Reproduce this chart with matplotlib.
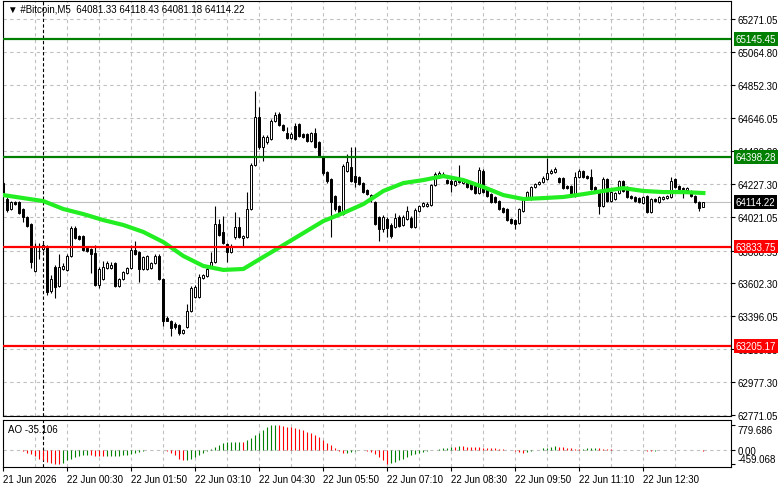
import numpy as np
import matplotlib
matplotlib.use('Agg')
import matplotlib.pyplot as plt

plt.rcParams['font.family'] = ['Liberation Sans', 'DejaVu Sans']

# M5 candles, 21 Jun 23:10 .. 22 Jun 13:45
opens = [64235, 64134, 64071, 64115, 64115, 64071, 64020, 63976, 63679, 63806,
         63818, 63837, 63553, 63704, 63584, 63692, 63686, 63774, 63951, 63900,
         63900, 63824, 63818, 63793, 63591, 63629, 63698, 63698, 63730, 63584,
         63629, 63667, 63698, 63812, 63799, 63692, 63692, 63698, 63730, 63774,
         63629, 63382, 63363, 63344, 63338, 63287, 63325, 63426, 63515, 63515,
         63635, 63648, 63711, 63736, 63976, 63926, 63850, 63799, 63894, 63957,
         63888, 63894, 64071, 64349, 64652, 64463, 64494, 64513, 64627, 64671,
         64602, 64551, 64519, 64595, 64608, 64545, 64545, 64501, 64551, 64494,
         64399, 64305, 64260, 64153, 64090, 64039, 64311, 64336, 64279, 64273,
         64235, 64191, 64134, 64115, 64020, 63945, 64008, 63970, 63957, 64020,
         63970, 64008, 64014, 63957, 64058, 64090, 64090, 64096, 64222, 64279,
         64279, 64254, 64248, 64222, 64260, 64235, 64241, 64235, 64216, 64172,
         64311, 64197, 64165, 64147, 64121, 64077, 64071, 64008, 64001, 63983,
         64058, 64134, 64134, 64210, 64229, 64241, 64260, 64298, 64305, 64267,
         64267, 64216, 64216, 64153, 64273, 64311, 64279, 64273, 64210, 64178,
         64090, 64260, 64121, 64134, 64172, 64248, 64210, 64153, 64147, 64140,
         64109, 64153, 64052, 64134, 64115, 64134, 64140, 64147, 64260, 64216,
         64203, 64191, 64185, 64153, 64115, 64081.33]
highs = [64247, 64147, 64121, 64121, 64121, 64077, 64027, 63983, 63856, 63856,
         63856, 63843, 63654, 63717, 63787, 63730, 63787, 63964, 63964, 63907,
         63907, 63831, 63824, 63843, 63704, 63742, 63742, 63736, 63736, 63635,
         63679, 63704, 63843, 63869, 63806, 63774, 63780, 63736, 63787, 63787,
         63635, 63395, 63369, 63357, 63344, 63313, 63470, 63584, 63591, 63660,
         63660, 63704, 63799, 64090, 64008, 64027, 63856, 63850, 64052, 64020,
         63907, 64179, 64362, 64817, 64716, 64538, 64538, 64640, 64684, 64684,
         64608, 64589, 64557, 64614, 64614, 64551, 64551, 64557, 64583, 64501,
         64406, 64311, 64267, 64159, 64096, 64356, 64419, 64463, 64463, 64279,
         64241, 64197, 64165, 64121, 64027, 64033, 64020, 63983, 64046, 64033,
         64033, 64090, 64027, 64077, 64096, 64115, 64115, 64229, 64305, 64311,
         64305, 64260, 64273, 64260, 64349, 64260, 64248, 64241, 64222, 64336,
         64324, 64203, 64172, 64153, 64128, 64083, 64077, 64014, 64008, 64077,
         64147, 64185, 64216, 64235, 64248, 64279, 64393, 64324, 64336, 64273,
         64273, 64222, 64222, 64305, 64324, 64317, 64286, 64324, 64216, 64185,
         64273, 64267, 64185, 64178, 64254, 64254, 64216, 64159, 64153, 64147,
         64153, 64159, 64140, 64140, 64153, 64153, 64159, 64273, 64267, 64222,
         64210, 64210, 64191, 64159, 64121, 64118.43]
lows = [64153, 64052, 64065, 64096, 64039, 63989, 63957, 63698, 63673, 63755,
        63806, 63527, 63540, 63508, 63578, 63686, 63679, 63768, 63881, 63875,
        63806, 63799, 63667, 63584, 63572, 63622, 63692, 63692, 63578, 63578,
        63622, 63660, 63692, 63780, 63610, 63686, 63686, 63692, 63723, 63622,
        63331, 63376, 63268, 63313, 63275, 63281, 63319, 63420, 63508, 63508,
        63629, 63641, 63704, 63730, 63900, 63850, 63736, 63793, 63881, 63888,
        63837, 63888, 64065, 64343, 64450, 64374, 64482, 64507, 64621, 64595,
        64564, 64513, 64513, 64507, 64526, 64519, 64494, 64494, 64456, 64399,
        64286, 64235, 63894, 64058, 64046, 64033, 64305, 64241, 64210, 64222,
        64172, 64159, 64115, 63970, 63869, 63926, 63894, 63888, 63951, 63957,
        63964, 64001, 63951, 63951, 64052, 64083, 64083, 64090, 64216, 64273,
        64273, 64229, 64178, 64216, 64235, 64229, 64203, 64191, 64165, 64165,
        64172, 64147, 64109, 64109, 64065, 64046, 63995, 63976, 63945, 63976,
        64052, 64128, 64128, 64203, 64222, 64235, 64254, 64292, 64298, 64235,
        64197, 64197, 64147, 64147, 64267, 64267, 64260, 64191, 64172, 64039,
        64083, 64115, 64115, 64128, 64165, 64178, 64140, 64134, 64115, 64109,
        64102, 64046, 64046, 64115, 64109, 64128, 64134, 64140, 64203, 64191,
        64140, 64185, 64147, 64109, 64058, 64081.18]
closes = [64165, 64065, 64115, 64102, 64046, 64020, 63964, 63736, 63831, 63803,
          63843, 63546, 63629, 63578, 63704, 63711, 63774, 63951, 63888, 63881,
          63812, 63806, 63787, 63591, 63692, 63704, 63730, 63717, 63584, 63629,
          63673, 63698, 63812, 63787, 63692, 63768, 63774, 63730, 63774, 63629,
          63363, 63363, 63319, 63325, 63287, 63306, 63426, 63572, 63578, 63641,
          63654, 63692, 63736, 63976, 63907, 63856, 63799, 63837, 63957, 63894,
          63900, 64071, 64349, 64652, 64463, 64526, 64526, 64627, 64665, 64602,
          64570, 64519, 64545, 64513, 64532, 64526, 64501, 64551, 64463, 64406,
          64299, 64248, 64115, 64071, 64052, 64343, 64368, 64248, 64241, 64229,
          64178, 64165, 64159, 63976, 63945, 64020, 63951, 63900, 64014, 63964,
          64020, 64058, 63957, 64065, 64090, 64109, 64102, 64222, 64292, 64298,
          64292, 64235, 64229, 64248, 64241, 64248, 64210, 64197, 64172, 64317,
          64178, 64153, 64115, 64115, 64071, 64052, 64001, 63983, 63976, 64071,
          64140, 64178, 64210, 64229, 64241, 64267, 64298, 64311, 64324, 64241,
          64203, 64203, 64153, 64273, 64311, 64273, 64267, 64197, 64178, 64090,
          64260, 64121, 64178, 64172, 64248, 64185, 64147, 64140, 64121, 64115,
          64147, 64052, 64134, 64121, 64147, 64147, 64153, 64248, 64210, 64197,
          64197, 64203, 64153, 64115, 64077, 64114.22]

# moving average, read every 5th bar
ma_bars = list(range(0, 176, 5))
ma_vals = [64159, 64140, 64121, 64071, 64039, 64001, 63970, 63926, 63862, 63774,
           63711, 63686, 63692, 63768, 63843, 63919, 63995, 64046, 64102, 64185,
           64235, 64254, 64279, 64254, 64210, 64159, 64134, 64140, 64147, 64165,
           64185, 64203, 64185, 64178, 64178, 64172]

ao_vals = [-5, -10, -15, -20, -30, -55, -100, -150, -215, -290,
           -340, -395, -430, -448, -452, -420, -345, -290, -235, -190,
           -170, -160, -170, -190, -215, -218, -210, -205, -200, -190,
           -180, -160, -140, -105, -85, -55, -30, -20, -15, -10,
           -20, -60, -105, -180, -290, -340, -320, -290, -235, -180,
           -105, -45, 10, 85, 140, 215, 235, 238, 245, 255,
           235, 300, 375, 450, 535, 620, 700, 770, 779.686, 770,
           750, 730, 710, 670, 650, 620, 565, 510, 460, 385,
           300, 215, 130, 40, -45, -105, -100, -75, -45, -20,
           -25, -40, -85, -150, -235, -340, -459.068, -440, -395, -345,
           -290, -235, -180, -130, -105, -75, -55, -20, 0, 15,
           40, 55, 85, 80, 120, 105, 95, 85, 80, 75,
           65, 55, 45, 35, 22, 5, -5, -20, -50, -75,
           -95, -75, -45, -20, 0, 40, 65, 95, 105, 95,
           85, 65, 45, 25, 20, 30, 42, 50, 60, 45,
           25, 10, 5, -5, -8, -10, -6, -4, -2, -8,
           -20, -35, -45, -40, -30, -20, -12, -5, -8, -6,
           -3, -8, -12, -15, -20, -35.106]

price_ticks = [65271.05, 65064.80, 64852.30, 64646.05, 64439.80, 64227.30, 64021.05,
               63808.55, 63602.30, 63396.05, 63183.55, 62977.30, 62771.05]
green_levels = [65145.45, 64398.28]
red_levels = [63833.75, 63205.17]
last_price = 64114.22

time_labels = ['21 Jun 2026', '22 Jun 00:30', '22 Jun 01:50', '22 Jun 03:10', '22 Jun 04:30',
               '22 Jun 05:50', '22 Jun 07:10', '22 Jun 08:30', '22 Jun 09:50', '22 Jun 11:10',
               '22 Jun 12:30']
label_bars = list(range(0, 176, 16))
day_sep_bar = 10  # 22 Jun 00:00

W, H = 781, 489


def rect(l, t, r, b):
    return [l / W, 1 - b / H, (r - l) / W, (b - t) / H]


fig = plt.figure(figsize=(W / 100, H / 100), dpi=100)
ax = fig.add_axes(rect(3, 2, 731, 417))
ao = fig.add_axes(rect(3, 421, 731, 468))

x = np.arange(len(closes))
o = np.array(opens)
c = np.array(closes)
grid_kw = dict(color='#c0c0c0', ls=(0, (3, 3)), lw=0.8)

# candles
ax.axhline(last_price, color='#c0c0c0', lw=0.8, zorder=1)
ax.vlines(x, lows, highs, color='black', lw=0.8, zorder=2)
fill = ['white' if cc >= oo else 'black' for oo, cc in zip(o, c)]
ax.bar(x, np.abs(c - o), bottom=np.minimum(o, c), width=0.5, color=fill,
       edgecolor='black', lw=0.7, zorder=3)
ax.plot(ma_bars, ma_vals, color='#22ee22', lw=3, zorder=4)
for lv in green_levels:
    ax.axhline(lv, color='#007f00', lw=1.6, zorder=5)
for lv in red_levels:
    ax.axhline(lv, color='#ff0000', lw=1.6, zorder=5)
ax.axvline(day_sep_bar, color='black', ls=(0, (3, 2)), lw=0.8, zorder=1)

ax.set_xlim(-0.08, 181.9)
ax.set_ylim(62762.8, 65385.6)
ax.yaxis.tick_right()
ax.set_yticks(price_ticks, labels=[f'{p:.2f}' for p in price_ticks])
ax.set_xticks(label_bars, labels=[])
ax.set_xticks(range(8, 182, 16), minor=True)
ax.tick_params(axis='x', which='both', length=0)
ax.tick_params(axis='y', length=3, width=0.8, pad=1.5, labelsize=7)
ax.grid(True, which='both', **grid_kw)
ax.set_axisbelow(True)

# right side price boxes
ytr = ax.get_yaxis_transform()
boxes = [(v, '#007f00') for v in green_levels] + [(v, '#ff0000') for v in red_levels] + [(last_price, 'black')]
for v, col in boxes:
    ax.annotate(f'{v:.2f}', xy=(1, v), xycoords=ytr, xytext=(3.2, 0), textcoords='offset points',
                va='center', ha='left', color='white', fontsize=7, annotation_clip=False,
                bbox=dict(boxstyle='square,pad=0.2', fc=col, ec='none'), zorder=10)

# AO sub-window
ao_col = ['#ff0000'] + ['#008000' if ao_vals[i] > ao_vals[i - 1] else '#ff0000' for i in range(1, len(ao_vals))]
ao.vlines(x, 0, ao_vals, colors=ao_col, lw=0.8)
ao.axvline(day_sep_bar, color='black', ls=(0, (3, 2)), lw=0.8, zorder=1)
ao.set_xlim(-0.08, 181.9)
ao.set_ylim(-554, 938)
ao.yaxis.tick_right()
ao.set_yticks([-459.068, 0, 779.686], labels=['-459.068', '0.00', '779.686'])
ylabs = ao.get_yticklabels()
ylabs[0].set_va('bottom')
ylabs[2].set_va('top')
ao.tick_params(axis='y', length=3, width=0.8, pad=1.5, labelsize=7)
ao.set_xticks(label_bars, labels=time_labels, ha='left')
ao.set_xticks(range(8, 182, 16), minor=True)
ao.tick_params(axis='x', which='major', length=3, width=0.8, pad=2, labelsize=7)
ao.tick_params(axis='x', which='minor', length=0)
ao.grid(True, axis='x', which='both', **grid_kw)
ao.axhline(0, zorder=0, **grid_kw)
ao.set_axisbelow(True)

for a in (ax, ao):
    for s in a.spines.values():
        s.set_linewidth(0.8)

fig.text(8 / W, 1 - 10 / H, '\u25bc #Bitcoin,M5  64081.33 64118.43 64081.18 64114.22',
         fontsize=7, va='center', ha='left')
fig.text(8 / W, 1 - 430 / H, 'AO -35.106', fontsize=7, va='center', ha='left')

fig.savefig('out.png', dpi=100)
